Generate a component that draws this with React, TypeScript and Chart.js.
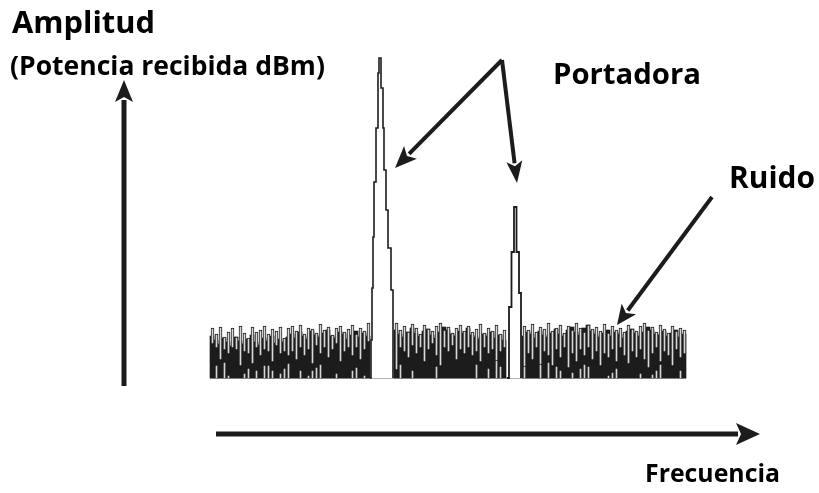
import React, { useEffect, useRef } from "react";
import { Chart, registerables } from "chart.js";

Chart.register(...registerables);

// Frequency bins (index) of the noise floor; amplitude in arbitrary units above the floor.
const NOISE_LEVEL: (number | null)[] = [
  42, 38, 34, 40, 36, 32, 41, 37, 34, 39, 43, 36, 33, 40, 37, 42, 35, 39, 36, 41,
  44, 40, 46, 42, 39, 47, 43, 41, 45, 48, 42, 40, 46, 44, 39, 43, 47, 41, 45, 42,
  null, null, null, null, null, null,
  48, 44, 41, 46, 50, 45, 42, 47, 49, 43, 40, 46, 51, 48, 44, 42, 47, 45, 50, 43, 41, 39, 44, 42, 46, 40, 43, 38,
  null, null, null, null,
  42, 46, 44, 40, 47, 43, 41, 45, 49, 44, 42, 48, 51, 46, 43, 50, 53, 47, 44, 41,
  45, 48, 42, 46, 44, 40, 47, 49, 45, 42, 46, 51, 48, 44, 43, 47, 42, 45, 48, 41, 44,
];

const SPIKE_TOP: (number | null)[] = [
  50, 44, 51, 41, 46, 50, 41, 52, 45, 40, 51, 46, 48, 52, 44, 49, 47, 51, 40, 50,
  52, 47, 53, 44, 50, 49, 45, 54, 48, 51, 43, 50, 52, 46, 49, 53, 44, 50, 47, 55,
  null, null, null, null, null, null,
  55, 48, 52, 46, 54, 50, 44, 53, 49, 47, 52, 55, 48, 51, 45, 50, 53, 47, 52, 46, 49, 54, 45, 50, 47, 53, 44, 48,
  null, null, null, null,
  52, 48, 54, 46, 51, 49, 55, 47, 50, 53, 45, 52, 48, 55, 50, 46, 53, 49, 51, 47,
  54, 45, 52, 48, 50, 46, 53, 49, 47, 52, 55, 48, 51, 46, 53, 49, 45, 52, 47, 50, 48,
];

const SPIKE_BOTTOM: (number | null)[] = [
  34, 30, 18, 28, 24, 30, 28, 12, 26, 24, 14, 30, 22, 28, 26, 16, 32, 24, 26, 22,
  26, 18, 30, 22, 28, 14, 32, 24, 30, 20, 28, 34, 16, 26, 30, 22, 30, 18, 28, 36,
  null, null, null, null, null, null,
  8, 30, 26, 20, 32, 24, 30, 16, 28, 34, 22, 12, 30, 26, 32, 18, 28, 24, 30, 22, 26, 16, 30, 24, 28, 10, 26, 30,
  null, null, null, null,
  10, 24, 18, 30, 8, 26, 22, 12, 28, 20, 30, 10, 24, 16, 28, 22, 30, 18, 26, 12,
  24, 20, 28, 16, 30, 22, 14, 26, 20, 28, 18, 10, 24, 30, 16, 26, 22, 12, 28, 20, 24,
];

const FLOOR_TICKS: (number | null)[] = [
  0, 13, 0, 16, 3, 0, 0, 0, 5, 10, 0, 8, 0, 13, 13, 8, 0, 5, 10, 15,
  0, 0, 8, 0, 3, 8, 11, 14, 0, 0, 0, 5, 0, 0, 0, 8, 11, 0, 3, 0,
  null, null, null, null, null, null,
  0, 14, 0, 0, 8, 0, 0, 0, 0, 0, 12, 0, 0, 0, 0, 0, 0, 0, 0, 0, 14, 0, 0, 10, 0, 18, 12, 0,
  null, null, null, null,
  12, 0, 0, 0, 14, 0, 16, 0, 12, 8, 0, 0, 6, 0, 10, 14, 12, 0, 0, 0,
  0, 3, 6, 10, 0, 0, 0, 0, 0, 5, 0, 0, 4, 8, 14, 0, 0, 0, 0, 8, 0,
];

// Carrier peaks: stepped outline (frequency, amplitude)
const PEAK1_FREQ = [39.5, 39.75, 40, 40.25, 40.5, 41, 41.5, 41.75, 42.25, 42.75, 43, 43.5, 44, 44.75, 45.25, 45.25];
const PEAK1_AMP = [0, 38, 90, 141, 196, 250, 305, 320, 290, 250, 208, 168, 130, 88, 48, 0];
const PEAK2_FREQ = [73.75, 74.25, 74.875, 75.5, 76.125, 76.75, 77.25, 77.25];
const PEAK2_AMP = [0, 71, 126, 171, 126, 85, 45, 0];

// Text labels
const LABEL_AMPLITUD = "Amplitud";
const LABEL_POTENCIA = "(Potencia recibida dBm)";
const LABEL_PORTADORA = "Portadora";
const LABEL_RUIDO = "Ruido";
const LABEL_FRECUENCIA = "Frecuencia";

const INK = "#1c1c1c";
const LINE_OFFSET = 0.125; // spike lines sit half a pixel right of the bin centre

function toXY(freq: number[], amp: number[]) {
  return freq.map((f, i) => ({ x: f, y: amp[i] }));
}

function barPoints(values: (number | null)[], shift = 0) {
  const out: { x: number; y: number }[] = [];
  values.forEach((v, i) => {
    if (v !== null && v > 0) out.push({ x: i + shift, y: v });
  });
  return out;
}

function floatPoints(lo: (number | null)[], hi: (number | null)[], shift = 0) {
  const out: { x: number; y: [number, number] }[] = [];
  hi.forEach((h, i) => {
    const l = lo[i];
    if (h !== null && l !== null) out.push({ x: i + shift, y: [l, h] });
  });
  return out;
}

type Arrow = { from: [number, number]; to: [number, number]; width: number; headLen: number; headHalf: number };

const ARROWS: Arrow[] = [
  { from: [-22, -8], to: [-22, 298], width: 5, headLen: 22, headHalf: 9 },
  { from: [1, -56], to: [137, -56], width: 5, headLen: 24, headHalf: 11 },
  { from: [72.5, 318], to: [45.75, 210], width: 4, headLen: 22, headHalf: 9 },
  { from: [72.5, 318], to: [76.25, 195], width: 4, headLen: 22, headHalf: 8 },
  { from: [125, 181], to: [101.25, 53], width: 4, headLen: 20, headHalf: 9 },
];

type Label = { text: string; at: [number, number]; width: number };

const LABELS: Label[] = [
  { text: LABEL_AMPLITUD, at: [-50, 345], width: 143 },
  { text: LABEL_POTENCIA, at: [-50.5, 303], width: 315 },
  { text: LABEL_PORTADORA, at: [85.25, 294], width: 148 },
  { text: LABEL_RUIDO, at: [129.25, 190], width: 86 },
  { text: LABEL_FRECUENCIA, at: [108.25, -104], width: 135 },
];

const overlayPlugin = {
  id: "overlay",
  afterDatasetsDraw(chart: any) {
    const ctx: CanvasRenderingContext2D = chart.ctx;
    const xs = chart.scales.x;
    const ys = chart.scales.y;
    ctx.save();
    ARROWS.forEach((a) => {
      const x1 = xs.getPixelForValue(a.from[0]);
      const y1 = ys.getPixelForValue(a.from[1]);
      const x2 = xs.getPixelForValue(a.to[0]);
      const y2 = ys.getPixelForValue(a.to[1]);
      const ang = Math.atan2(y2 - y1, x2 - x1);
      const bx = x2 - Math.cos(ang) * a.headLen;
      const by = y2 - Math.sin(ang) * a.headLen;
      ctx.strokeStyle = INK;
      ctx.fillStyle = INK;
      ctx.lineWidth = a.width;
      ctx.lineCap = "butt";
      ctx.beginPath();
      ctx.moveTo(x1, y1);
      ctx.lineTo(bx + Math.cos(ang) * 2, by + Math.sin(ang) * 2);
      ctx.stroke();
      const px = -Math.sin(ang);
      const py = Math.cos(ang);
      const nx = bx + Math.cos(ang) * 5;
      const ny = by + Math.sin(ang) * 5;
      ctx.beginPath();
      ctx.moveTo(x2, y2);
      ctx.lineTo(bx + px * a.headHalf, by + py * a.headHalf);
      ctx.lineTo(nx, ny);
      ctx.lineTo(bx - px * a.headHalf, by - py * a.headHalf);
      ctx.closePath();
      ctx.fill();
    });
    ctx.fillStyle = "#000";
    ctx.textBaseline = "alphabetic";
    ctx.textAlign = "left";
    const fam = "'Open Sans', 'DejaVu Sans', sans-serif";
    LABELS.forEach((l) => {
      ctx.font = `bold 20px ${fam}`;
      const w = ctx.measureText(l.text).width;
      const size = (20 * l.width) / w;
      ctx.font = `bold ${size.toFixed(2)}px ${fam}`;
      ctx.fillText(l.text, xs.getPixelForValue(l.at[0]), ys.getPixelForValue(l.at[1]));
    });
    ctx.restore();
  },
};

export default function App() {
  const ref = useRef<HTMLCanvasElement | null>(null);

  useEffect(() => {
    if (!ref.current) return;
    const chart = new Chart(ref.current, {
      type: "bar",
      data: {
        datasets: [
          {
            type: "line",
            label: "Portadora 1",
            data: toXY(PEAK1_FREQ, PEAK1_AMP),
            stepped: "before",
            fill: "origin",
            backgroundColor: "#ffffff",
            borderColor: INK,
            borderWidth: 1.6,
            pointRadius: 0,
            order: 1,
          } as any,
          {
            type: "line",
            label: "Portadora 2",
            data: toXY(PEAK2_FREQ, PEAK2_AMP),
            stepped: "before",
            fill: "origin",
            backgroundColor: "#ffffff",
            borderColor: INK,
            borderWidth: 1.8,
            pointRadius: 0,
            order: 1,
          } as any,
          {
            type: "bar",
            label: "Ruido (suelo)",
            data: barPoints(FLOOR_TICKS, LINE_OFFSET),
            backgroundColor: "#d4d4d4",
            borderColor: INK,
            borderWidth: 1,
            borderSkipped: "start",
            barThickness: 3,
            grouped: false,
            order: 2,
          } as any,
          {
            type: "bar",
            label: "Ruido (picos)",
            data: floatPoints(SPIKE_BOTTOM, SPIKE_TOP, LINE_OFFSET),
            backgroundColor: "#d8d8d8",
            borderColor: INK,
            borderWidth: 1,
            borderSkipped: false,
            barThickness: 3,
            grouped: false,
            order: 3,
          } as any,
          {
            type: "bar",
            label: "Ruido",
            data: barPoints(NOISE_LEVEL),
            backgroundColor: INK,
            borderWidth: 0,
            barThickness: 4,
            grouped: false,
            order: 4,
          } as any,
          {
            type: "line",
            label: "base",
            data: [
              { x: -0.5, y: 0 },
              { x: 118.5, y: 0 },
            ],
            borderColor: "#9a9a9a",
            borderWidth: 1.5,
            pointRadius: 0,
            fill: false,
            order: 5,
          } as any,
        ],
      },
      options: {
        animation: false,
        responsive: false,
        layout: { padding: 0 },
        plugins: { legend: { display: false }, tooltip: { enabled: false }, title: { display: false } },
        scales: {
          x: { type: "linear", min: -53, max: 151.75, display: false, offset: false },
          y: { type: "linear", min: -115, max: 378, display: false },
        },
      } as any,
      plugins: [overlayPlugin],
    });
    return () => chart.destroy();
  }, []);

  return (
    <div style={{ position: "absolute", left: 0, top: 0, width: 819, height: 493, background: "#fff" }}>
      <canvas ref={ref} width={819} height={493} />
    </div>
  );
}
